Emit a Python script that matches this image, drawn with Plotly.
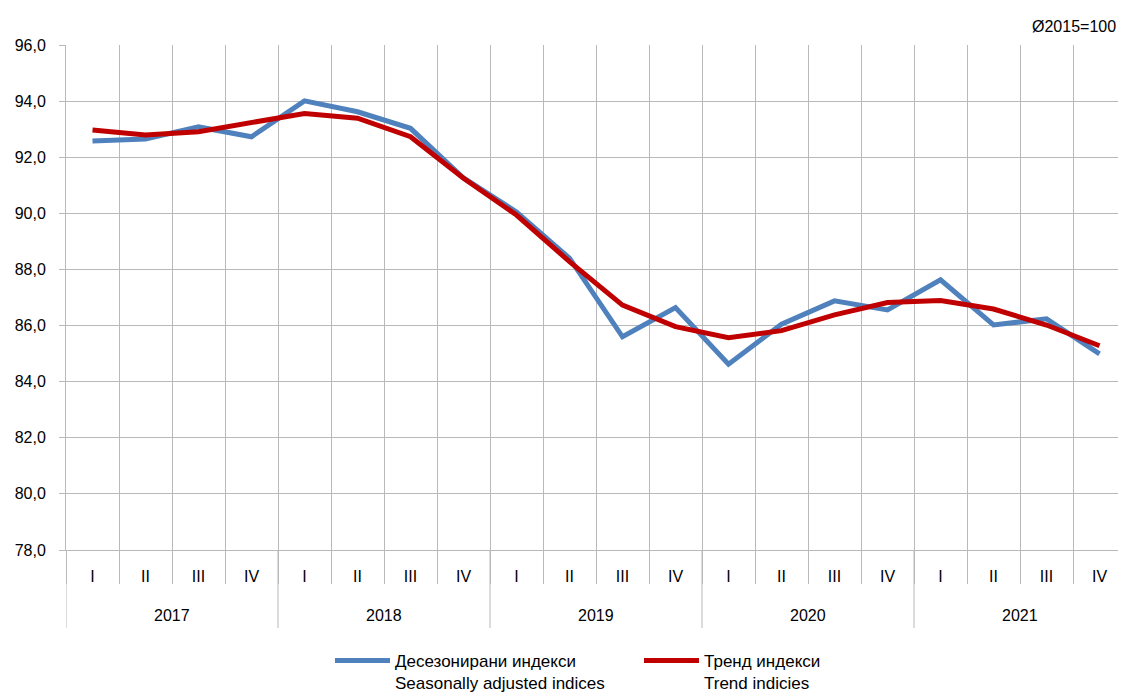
import plotly.graph_objects as go

years = ["2017", "2018", "2019", "2020", "2021"]
quarter_names = ["I", "II", "III", "IV"]

seasonally_adjusted = [92.58, 92.65, 93.08, 92.73,
                       94.01, 93.62, 93.03, 91.26,
                       90.05, 88.40, 85.60, 86.64,
                       84.62, 86.05, 86.88, 86.56,
                       87.63, 86.02, 86.24, 84.99]
trend = [92.97, 92.79, 92.91, 93.24,
         93.56, 93.39, 92.73, 91.25,
         89.94, 88.28, 86.73, 85.96,
         85.57, 85.82, 86.38, 86.82,
         86.89, 86.59, 86.02, 85.28]

name_sa = "Десезонирани индекси<br>Seasonally adjusted indices"
name_tr = "Тренд индекси<br>Trend indicies"

cats = [f"{y}-{q}" for y in years for q in quarter_names]
qlabels = [q for y in years for q in quarter_names]
nq = len(quarter_names)

FONT = "Liberation Sans, Arial"
GRID = "#b9b9b9"
OFF = 8  # page body margin of the html page
W, H = 1126 - OFF, 694 - OFF
PLOT_L, PLOT_T = 66, 45
PLOT_W, PLOT_H = 1060.0, 505.0
PLOT_B = PLOT_T + PLOT_H

fig = go.Figure()
fig.add_trace(go.Scatter(x=cats, y=seasonally_adjusted, mode="lines",
                         name=name_sa, line=dict(color="#4F81BD", width=5)))
fig.add_trace(go.Scatter(x=cats, y=trend, mode="lines",
                         name=name_tr, line=dict(color="#C00000", width=5)))

annotations = [dict(text="Ø2015=100", xref="paper", yref="paper",
                    x=(1118 - PLOT_L) / PLOT_W, y=(PLOT_B - 27) / PLOT_H,
                    xanchor="right", yanchor="middle",
                    showarrow=False, font=dict(size=16))]
shapes = []
for i, y in enumerate(years):
    annotations.append(dict(text=y, xref="x", yref="paper",
                            x=i * nq + (nq - 1) / 2, y=-(615 - PLOT_B) / PLOT_H,
                            xanchor="center", yanchor="middle", showarrow=False,
                            font=dict(size=16)))
    shapes.append(dict(type="line", xref="x", yref="paper",
                       x0=i * nq - 0.5, x1=i * nq - 0.5, y0=0,
                       y1=-(628 - PLOT_B) / PLOT_H,
                       line=dict(color=GRID, width=1)))

fig.update_layout(
    width=W, height=H,
    margin=dict(l=PLOT_L - OFF, r=0, t=PLOT_T - OFF, b=H - (PLOT_B - OFF)),
    paper_bgcolor="white", plot_bgcolor="white",
    separators=", ",
    font=dict(family=FONT, size=16, color="#000000"),
    showlegend=True,
    legend=dict(orientation="h", xref="container", yref="container",
                x=(330 - OFF) / W, xanchor="left", y=1 - (643 - OFF) / H, yanchor="top",
                valign="top", font=dict(size=17), itemwidth=55, tracegroupgap=0,
                entrywidth=239, bgcolor="rgba(0,0,0,0)"),
    annotations=annotations,
    shapes=shapes,
)
fig.update_xaxes(type="category", range=[-0.5, len(cats) - 0.5], automargin=False,
                 tickmode="array", tickvals=cats, ticktext=qlabels,
                 showgrid=True, gridcolor=GRID, gridwidth=1,
                 tickson="boundaries", ticks="outside", ticklen=33, tickcolor=GRID,
                 ticklabelstandoff=12,
                 showline=True, linecolor=GRID, linewidth=1,
                 tickfont=dict(size=16))
fig.update_yaxes(range=[78, 96], dtick=2, tickformat=".1f", showgrid=True,
                 automargin=False,
                 gridcolor=GRID, gridwidth=1, showline=True, linecolor=GRID,
                 ticks="outside", ticklen=6, tickcolor=GRID, tickfont=dict(size=16),
                 ticklabelstandoff=10, zeroline=False)

fig.write_html("out.html")
